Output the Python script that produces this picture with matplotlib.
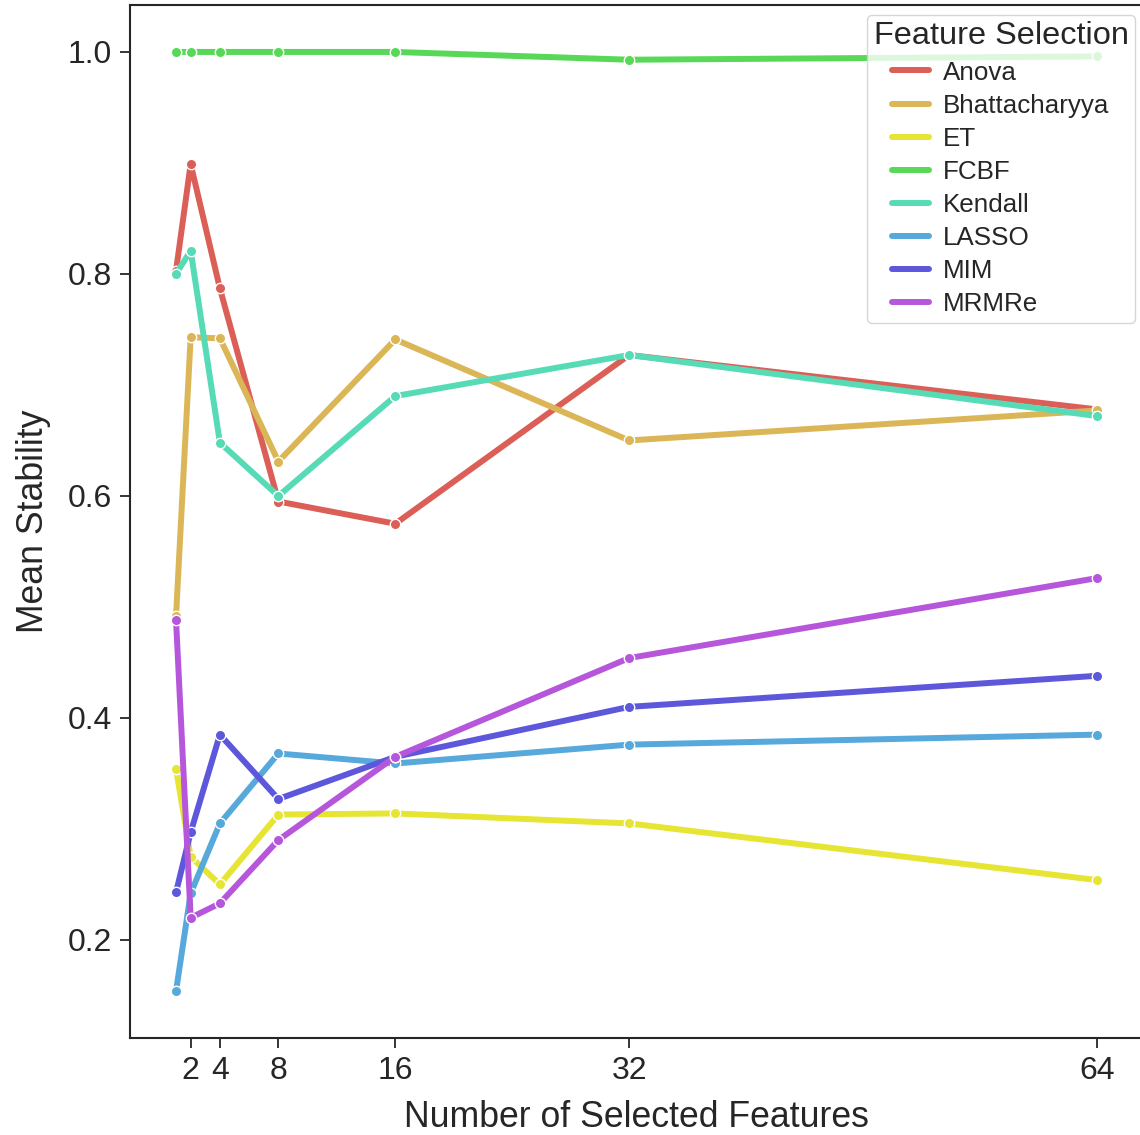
import matplotlib
matplotlib.use("Agg")
import matplotlib.pyplot as plt
import seaborn as sns

x_vals = [1, 2, 4, 8, 16, 32, 64]
methods = ["Anova", "Bhattacharyya", "ET", "FCBF", "Kendall", "LASSO", "MIM", "MRMRe"]
anova = [0.803, 0.899, 0.787, 0.595, 0.575, 0.727, 0.678]
bhatt = [0.492, 0.743, 0.742, 0.631, 0.741, 0.650, 0.677]
et = [0.354, 0.275, 0.250, 0.313, 0.314, 0.305, 0.254]
fcbf = [1.0, 1.0, 1.0, 1.0, 1.0, 0.993, 0.996]
kendall = [0.800, 0.821, 0.648, 0.600, 0.690, 0.727, 0.672]
lasso = [0.154, 0.242, 0.305, 0.368, 0.359, 0.376, 0.385]
mim = [0.243, 0.297, 0.385, 0.327, 0.365, 0.410, 0.438]
mrmre = [0.488, 0.220, 0.233, 0.290, 0.365, 0.454, 0.526]
series = [anova, bhatt, et, fcbf, kendall, lasso, mim, mrmre]
colors = ["#db5f57", "#dbb657", "#e6e533", "#57d957", "#57dbb6", "#57a8db", "#5c57db", "#b657db"]
xticks = [2, 4, 8, 16, 32, 64]

sns.set_theme(style="ticks")
plt.rcParams['font.family'] = ['Liberation Sans', 'DejaVu Sans']

fig = plt.figure(figsize=(11.4, 11.35), dpi=100)
ax = fig.add_axes([130/1140, 1 - 1038/1135, (1143-130)/1140, (1038-5)/1135])
for name, vals, c in zip(methods, series, colors):
    ax.plot(x_vals, vals, color=c, lw=4.3, marker="o", ms=7.5,
            mec="white", mew=1.0, label=name)

ax.set_xticks(xticks)
ax.set_xticklabels([str(v) for v in xticks])
ax.set_yticks([0.2, 0.4, 0.6, 0.8, 1.0])
ax.tick_params(labelsize=23, length=7, width=1.3, pad=6, colors="#262626")
for s in ax.spines.values():
    s.set_linewidth(1.5)
    s.set_color("#262626")
ax.set_xlabel("Number of Selected Features", fontsize=25.7, color="#262626", labelpad=10)
ax.set_ylabel("Mean Stability", fontsize=25.7, color="#262626", labelpad=12)

leg = ax.legend(title="Feature Selection", loc="upper right", fontsize=18.7,
                title_fontsize=23.4, frameon=True, borderpad=0.25,
                labelspacing=0.35, handlelength=1.4, handletextpad=0.55,
                borderaxespad=0,
                bbox_to_anchor=((1135-130)/(1143-130), 1 - 10/1033))
leg.get_frame().set_alpha(0.8)
for line in leg.get_lines():
    line.set_linewidth(4.3)
    line.set_marker("")

fig.savefig("out.png", dpi=100)
